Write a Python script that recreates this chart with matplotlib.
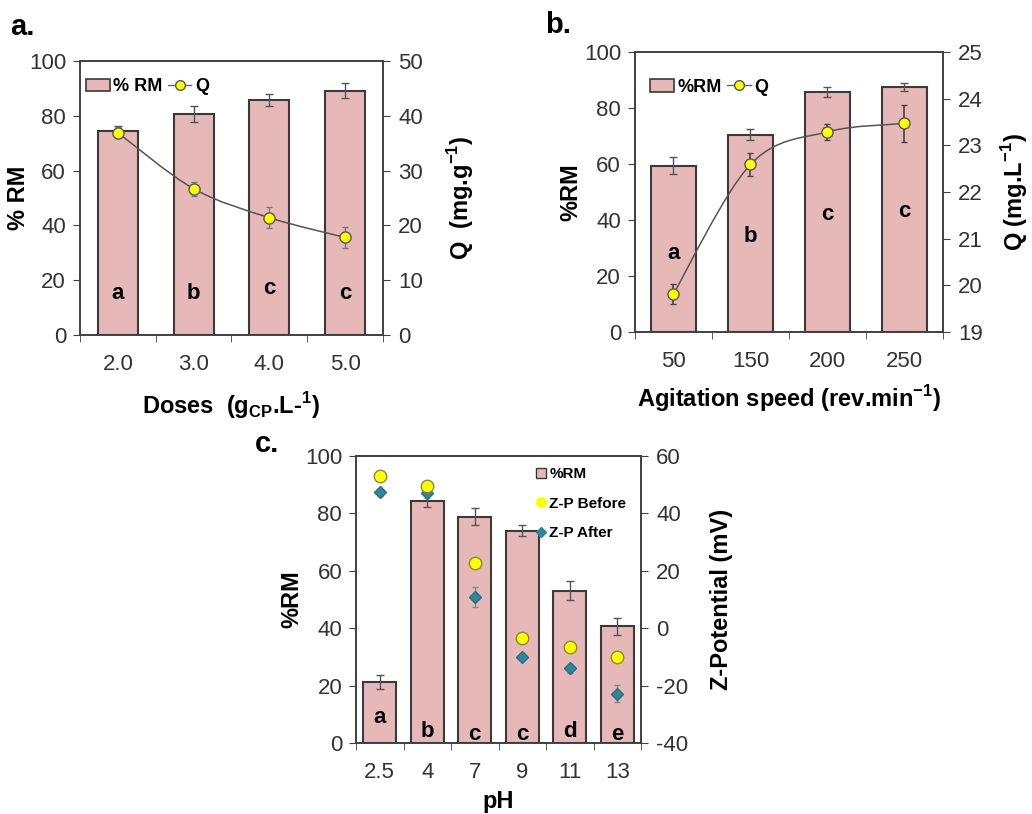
import numpy as np
import matplotlib.pyplot as plt
from matplotlib.path import Path
from matplotlib.patches import PathPatch, Patch
from matplotlib.lines import Line2D

plt.rcParams['font.family'] = ['Liberation Sans', 'DejaVu Sans']
plt.rcParams['mathtext.fontset'] = 'custom'
plt.rcParams['mathtext.rm'] = 'Liberation Sans'
plt.rcParams['mathtext.bf'] = 'Liberation Sans:bold'
plt.rcParams['axes.unicode_minus'] = False

# ---- panel a: doses
dose_labels = ['2.0', '3.0', '4.0', '5.0']
dose_rm = [74.4, 80.6, 85.9, 89.2]
dose_rm_err = [1.8, 3.0, 2.2, 2.7]
dose_q = [36.9, 26.7, 21.4, 17.8]
dose_q_err = [1.0, 1.3, 1.9, 1.9]
dose_letters = ['a', 'b', 'c', 'c']
dose_letter_y = [15, 15, 17, 15]

# ---- panel b: agitation speed
speed_labels = ['50', '150', '200', '250']
speed_rm = [59.4, 70.4, 85.6, 87.4]
speed_rm_err = [3.0, 2.0, 1.8, 1.4]
speed_q = [19.82, 22.59, 23.29, 23.47]
speed_q_err = [0.21, 0.24, 0.17, 0.39]
speed_letters = ['a', 'b', 'c', 'c']
speed_letter_y = [28, 34, 42, 43]

# ---- panel c: pH
ph_labels = ['2.5', '4', '7', '9', '11', '13']
ph_rm = [21.2, 84.3, 78.9, 74.0, 53.1, 40.6]
ph_rm_err = [2.5, 2.0, 3.0, 2.0, 3.3, 3.0]
zp_before = [53.0, 49.7, 22.6, -3.5, -6.4, -10.1]
zp_after = [47.4, 47.0, 11.0, -9.9, -14.0, -22.8]
zp_after_err = [1.2, 1.5, 3.5, 1.0, 1.5, 3.0]
ph_letters = ['a', 'b', 'c', 'c', 'd', 'e']
ph_letter_y = [9, 4, 3, 3, 4, 3]

BAR = '#E6B9B8'
EDGE = '#3a3a3a'
SPINE = '#404040'


def smooth_path(x, y):
    # Catmull-Rom style bezier through the points (Excel "smoothed line")
    pts = np.column_stack([x, y]).astype(float)
    n = len(pts)
    verts = [pts[0]]
    codes = [Path.MOVETO]
    for i in range(n - 1):
        p0 = pts[i - 1] if i > 0 else pts[i]
        p3 = pts[i + 2] if i + 2 < n else pts[i + 1]
        c1 = pts[i] + (pts[i + 1] - p0) / 6
        c2 = pts[i + 1] - (p3 - pts[i]) / 6
        verts += [c1, c2, pts[i + 1]]
        codes += [Path.CURVE4] * 3
    return Path(verts, codes)


def style_axes(ax, ax2, labels, xpad):
    n = len(labels)
    ax.set_xlim(-0.5, n - 0.5)
    ax.set_xticks(range(n))
    ax.set_xticklabels(labels)
    ax.set_xticks(np.arange(-0.5, n, 1.0), minor=True)
    ax.tick_params(axis='x', which='major', length=0, pad=xpad, labelsize=16, labelcolor='#333333')
    ax.tick_params(axis='x', which='minor', length=5, direction='out', color=SPINE)
    ax.tick_params(axis='y', length=5, direction='out', color=SPINE, pad=5, labelsize=16, labelcolor='#333333')
    ax2.tick_params(axis='y', length=5, direction='out', color=SPINE, pad=6, labelsize=16, labelcolor='#333333')
    for a in (ax, ax2):
        for s in a.spines.values():
            s.set_color(SPINE)
            s.set_linewidth(1.2)


def draw_bars(ax, rm, err, width, letters, letter_y):
    x = np.arange(len(rm))
    ax.bar(x, rm, width=width, color=BAR, edgecolor=EDGE, linewidth=1.5, zorder=2)
    ax.errorbar(x, rm, yerr=err, fmt='none', ecolor='#555555', elinewidth=1, capsize=3, zorder=3)
    for xi, t, ty in zip(x, letters, letter_y):
        ax.text(xi, ty, t, ha='center', va='center', fontsize=16, fontweight='bold', zorder=4)
    return x


fig = plt.figure(figsize=(10.32, 8.14), dpi=100)

# ================= a =================
ax = fig.add_axes([0.0775, 0.5885, 0.2936, 0.3366])
ax2 = ax.twinx()
x = draw_bars(ax, dose_rm, dose_rm_err, 0.53, dose_letters, dose_letter_y)
ax.set_ylim(0, 100)
ax.set_yticks(range(0, 101, 20))
ax2.set_ylim(0, 50)
ax2.set_yticks(range(0, 51, 10))
ax2.add_patch(PathPatch(smooth_path(x, dose_q), facecolor='none', edgecolor='#555555', lw=1.1, zorder=3))
ax2.errorbar(x, dose_q, yerr=dose_q_err, fmt='o', color='#555555', mfc='#FFFF00', mec='#555555',
             ms=8, elinewidth=1, ecolor='#777777', capsize=2.5, zorder=4)
style_axes(ax, ax2, dose_labels, 14)
ax.set_ylabel('% RM', fontsize=17, fontweight='bold')
ax.yaxis.set_label_coords(-0.165, 0.5)
ax2.set_ylabel(r'Q  (mg.g$^{\mathbf{-1}}$)', fontsize=17, fontweight='bold')
ax2.yaxis.set_label_coords(1.205, 0.5)
ax.set_xlabel(r'Doses  (g$_{\mathbf{CP}}$.L-$^{\mathbf{1}}$)', fontsize=17, fontweight='bold')
ax.xaxis.set_label_coords(0.5, -0.20)
h = [Patch(facecolor=BAR, edgecolor=EDGE, linewidth=1.2),
     Line2D([], [], color='#666666', marker='o', mfc='#FFFF00', mec='#555555', ms=7, lw=1)]
ax2.legend(h, ['% RM', 'Q'], ncol=2, loc='center left', bbox_to_anchor=(0.02, 0.905), frameon=False,
           prop={'size': 13, 'weight': 'bold'}, handlelength=1.3, handletextpad=0.2, columnspacing=0.3,
           borderaxespad=0, borderpad=0)
fig.text(0.010, 0.957, 'a.', fontsize=21, fontweight='bold', va='baseline')

# ================= b =================
ax = fig.add_axes([0.6153, 0.5921, 0.2984, 0.344])
ax2 = ax.twinx()
x = draw_bars(ax, speed_rm, speed_rm_err, 0.58, speed_letters, speed_letter_y)
ax.set_ylim(0, 100)
ax.set_yticks(range(0, 101, 20))
ax2.set_ylim(19, 25)
ax2.set_yticks(range(19, 26))
ax2.add_patch(PathPatch(smooth_path(x, speed_q), facecolor='none', edgecolor='#555555', lw=1.1, zorder=3))
ax2.errorbar(x, speed_q, yerr=speed_q_err, fmt='o', color='#555555', mfc='#FFFF00', mec='#555555',
             ms=8, elinewidth=1.2, ecolor='#444444', capsize=2.5, zorder=4)
style_axes(ax, ax2, speed_labels, 14)
ax.set_ylabel('%RM', fontsize=17, fontweight='bold')
ax.yaxis.set_label_coords(-0.172, 0.5)
ax2.set_ylabel(r'Q (mg.L$^{\mathbf{-1}}$)', fontsize=17, fontweight='bold')
ax2.yaxis.set_label_coords(1.182, 0.5)
ax.set_xlabel(r'Agitation speed (rev.min$^{\mathbf{-1}}$)', fontsize=17, fontweight='bold')
ax.xaxis.set_label_coords(0.5, -0.182)
ax2.legend(h, ['%RM', 'Q'], ncol=2, loc='center left', bbox_to_anchor=(0.05, 0.875), frameon=False,
           prop={'size': 13, 'weight': 'bold'}, handlelength=1.3, handletextpad=0.2, columnspacing=0.3,
           borderaxespad=0, borderpad=0)
fig.text(0.528, 0.960, 'b.', fontsize=21, fontweight='bold', va='baseline')

# ================= c =================
ax = fig.add_axes([0.345, 0.0872, 0.2762, 0.3526])
ax2 = ax.twinx()
x = draw_bars(ax, ph_rm, ph_rm_err, 0.70, ph_letters, ph_letter_y)
ax.set_ylim(0, 100)
ax.set_yticks(range(0, 101, 20))
ax2.set_ylim(-40, 60)
ax2.set_yticks(range(-40, 61, 20))
ax2.errorbar(x, zp_after, yerr=zp_after_err, fmt='D', mfc='#31859C', mec='#2a6f82', ms=6,
             ecolor='#888888', elinewidth=1, capsize=2, zorder=4)
ax2.plot(x, zp_before, 'o', mfc='#FFFF00', mec='#8a8a3a', ms=9, zorder=5)
style_axes(ax, ax2, ph_labels, 14)
ax.set_ylabel('%RM', fontsize=17, fontweight='bold')
ax.yaxis.set_label_coords(-0.186, 0.5)
ax2.set_ylabel('Z-Potential (mV)', fontsize=17, fontweight='bold')
ax2.yaxis.set_label_coords(1.242, 0.5)
ax.set_xlabel('pH', fontsize=17, fontweight='bold')
ax.xaxis.set_label_coords(0.5, -0.165)
hc = [Patch(facecolor=BAR, edgecolor=EDGE, linewidth=1),
      Line2D([], [], ls='none', marker='o', mfc='#FFFF00', mec='#FFFF00', ms=7),
      Line2D([], [], ls='none', marker='D', mfc='#31859C', mec='#31859C', ms=5)]
ax2.legend(hc, ['%RM', 'Z-P Before', 'Z-P After'], loc='upper left', bbox_to_anchor=(0.63, 0.96),
           frameon=False, prop={'size': 11, 'weight': 'bold'}, handlelength=0.7, handleheight=0.7,
           handletextpad=0.2, labelspacing=1.0, borderaxespad=0, borderpad=0)
fig.text(0.247, 0.445, 'c.', fontsize=21, fontweight='bold', va='baseline')

fig.savefig('out.png', dpi=100)
